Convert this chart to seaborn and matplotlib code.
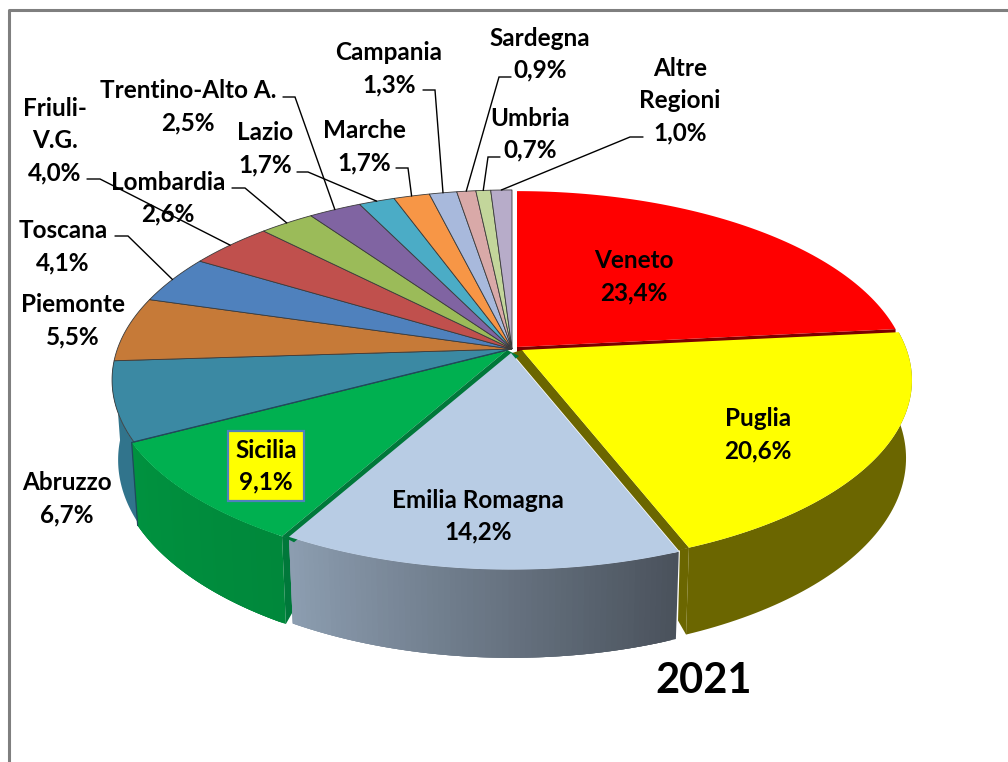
#!/usr/bin/env python3
# Quote regionali 2021 - torta 3D con prospettiva
import numpy as np
import seaborn as sns
import matplotlib.pyplot as plt

regions = ['Veneto', 'Puglia', 'Emilia Romagna', 'Sicilia', 'Abruzzo', 'Piemonte', 'Toscana',
           'Friuli-\nV.G.', 'Lombardia', 'Trentino-Alto A.', 'Lazio', 'Marche', 'Campania',
           'Sardegna', 'Umbria', 'Altre\nRegioni']
shares = [23.4, 20.6, 14.2, 9.1, 6.7, 5.5, 4.1, 4.0, 2.6, 2.5, 1.7, 1.7, 1.3, 0.9, 0.7, 1.0]
top_colors = ['#ff0000', '#ffff00', '#b8cce4', '#00b050', '#3b89a3', '#c67a38', '#4f81bd', '#c0504d',
              '#9bbb59', '#8064a2', '#4bacc6', '#f79646', '#a8b9dc', '#d9a9a8', '#c3d69b', '#b7acc9']
year = '2021'

# label centres in pixels
label_pos = [(634, 276), (758, 434), (478, 515), (266, 466), (67, 498), (73, 320), (63, 246),
             (55, 140), (168, 197), (188, 106), (265, 148), (364, 146), (389, 68),
             (540, 53), (530, 133), (680, 100)]
# leader start + elbow in pixels, the end is taken on the rim
leaders = {6: [(115, 236), (128, 236)], 7: [(87, 179), (100, 179)], 8: [(232, 188), (245, 188)],
           9: [(283, 97), (295, 97)], 10: [(297, 172), (308, 172)], 11: [(396, 168), (408, 168)],
           12: [(423, 90), (435, 90)], 13: [(511, 77), (499, 77)], 14: [(500, 157), (488, 157)],
           15: [(643, 137), (630, 137)]}

# pie geometry (pixels)
CX, CY = 512, 349
A, B, K = 394.6, 185.0, 0.163
DEPTH, M = 80.0, 0.015
LINE_PITCH = 32
# per slice: shift x, shift y, scale
explode = {0: (5, -2, 0.98), 1: (10, 1, 0.975), 2: (-1, 4, 0.98), 3: (-5, 1, 0.993)}

bounds = np.concatenate([[0], np.cumsum(shares)]) / np.sum(shares) * 2 * np.pi


def project(theta, i, bottom=False):
    dx, dy, s = explode.get(i, (0, 0, 1.0))
    x, y = np.sin(theta), np.cos(theta)
    w = 1 + K * y
    if bottom:
        w = w + M
        px, py = A * x / w, (B * y - DEPTH) / w
    else:
        px, py = A * x / w, B * y / w
    return CX + dx + s * px, CY + dy - s * py


def apex(i):
    dx, dy, _ = explode.get(i, (0, 0, 1.0))
    return CX + dx, CY + dy


def draw_top(ax, i):
    t = np.linspace(bounds[i], bounds[i + 1], 80)
    rx, ry = project(t, i)
    ax0, ay0 = apex(i)
    if i in explode:
        ax.fill(np.r_[ax0, rx], np.r_[ay0, ry], color=top_colors[i], lw=0, zorder=3 + (i in (1, 2)))
    else:
        ax.fill(np.r_[ax0, rx], np.r_[ay0, ry], fc=top_colors[i], ec='#3a3a3a', lw=0.6, zorder=3)


def draw_wall(ax, i, c1, c2, zorder, n=70):
    t = np.linspace(bounds[i], bounds[i + 1], n + 1)
    tx, ty = project(t, i)
    bx, by = project(t, i, bottom=True)
    if c1 == c2:
        ax.fill(np.r_[tx, bx[::-1]], np.r_[ty, by[::-1]], color=c1, lw=0, zorder=zorder)
        return
    pal = sns.blend_palette([c1, c2], n)
    # slices run clockwise, so at the front they go right to left on screen
    for j in range(n):
        k = min(j + 3, n)
        ax.fill(np.r_[tx[j:k + 1], bx[j:k + 1][::-1]], np.r_[ty[j:k + 1], by[j:k + 1][::-1]],
                color=pal[n - 1 - j], lw=0, zorder=zorder)


def draw_strip(ax, i, theta, shift, color, zorder):
    ax0, ay0 = apex(i)
    rx, ry = project(theta, i)
    ax.fill([ax0, rx, rx + shift[0], ax0 + shift[0]], [ay0, ry, ry + shift[1], ay0 + shift[1]],
            color=color, lw=0, zorder=zorder)


def draw_cut(ax, i, theta, top_shift, low_shift, color, zorder):
    sx, sy = project(theta, i)
    bx, by = project(theta, i, bottom=True)
    ax.fill([sx, sx + top_shift[0], bx + low_shift[0], bx], [sy, sy + top_shift[1], by + low_shift[1], by],
            color=color, lw=0, zorder=zorder)


sns.set_theme(style='white')
plt.rcParams['font.family'] = ['Lato', 'DejaVu Sans']

fig = plt.figure(figsize=(10.08, 7.62), dpi=100)
ax = fig.add_axes([0, 0, 1, 1])
ax.set_xlim(0, 1008)
ax.set_ylim(762, 0)
ax.axis('off')

# sheet border
ax.plot([9, 9, 1008], [762, 10, 10], color='#7f7f7f', lw=2.2, zorder=1)

# side walls, back to front
draw_wall(ax, 4, '#31748c', '#31748c', 1.1)
draw_cut(ax, 1, bounds[2], (-9, 2), (-8, -14), '#6b6600', 1.15)
draw_wall(ax, 1, '#6b6600', '#6b6600', 1.2)
draw_wall(ax, 3, '#00923f', '#00883b', 1.3)
draw_cut(ax, 3, bounds[3], (10, 3), (9, -16), '#00783a', 1.35)
draw_wall(ax, 2, '#8c9db0', '#4a525c', 1.4)

# cut faces seen through the gaps
draw_strip(ax, 0, bounds[1], (0, 5), '#7a0000', 2)
draw_strip(ax, 1, bounds[2], (-10, 3), '#6b6600', 2)
draw_strip(ax, 3, bounds[3], (12, 6), '#00783a', 3.2)

for i in range(len(shares)):
    draw_top(ax, i)

# dark seam between Abruzzo and Sicilia
sx, sy = project(bounds[4], 3)
bx, by = project(bounds[4], 3, bottom=True)
ax.plot([apex(3)[0], sx, bx], [apex(3)[1], sy, by], color='#1f4a5c', lw=0.9, zorder=3.5)

# leaders
for i, pts in leaders.items():
    mid = (bounds[i] + bounds[i + 1]) / 2
    ex, ey = project(mid, i)
    xs = [p[0] for p in pts] + [ex]
    ys = [p[1] for p in pts] + [ey]
    ax.plot(xs, ys, color='black', lw=1.0, zorder=5, solid_joinstyle='miter')

# labels, one text per line except the boxed one
for i, name in enumerate(regions):
    txt = name + '\n' + f"{shares[i]:.1f}".replace('.', ',') + '%'
    x, y = label_pos[i]
    if name == 'Sicilia':
        ax.text(x, y, txt, ha='center', va='center', fontsize=17.5, fontweight='bold', linespacing=1.46,
                color='black', zorder=7, bbox=dict(boxstyle='square,pad=0.3', fc='#ffff00', ec='#4f81bd', lw=1.6))
    else:
        lines = txt.split('\n')
        for j, line in enumerate(lines):
            base = y + (j - (len(lines) - 1) / 2) * LINE_PITCH + 8.5
            ax.text(x, base, line, ha='center', va='baseline', fontsize=17.5, fontweight='bold',
                    color='black', zorder=6)

ax.text(704, 681, year, ha='center', va='center', fontsize=30, fontweight='bold', color='black', zorder=6)

fig.savefig('out.png', dpi=100)
